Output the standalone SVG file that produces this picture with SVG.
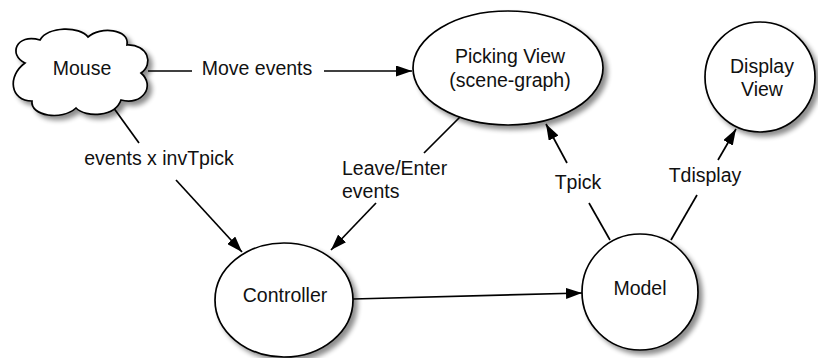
<svg xmlns="http://www.w3.org/2000/svg" width="818" height="358" viewBox="0 0 818 358">
  <defs>
    <filter id="shadow" x="-20%" y="-20%" width="150%" height="150%">
      <feGaussianBlur in="SourceAlpha" stdDeviation="2.5"/>
      <feOffset dx="4" dy="4" result="b"/>
      <feComponentTransfer><feFuncA type="linear" slope="0.45"/></feComponentTransfer>
      <feMerge><feMergeNode/><feMergeNode in="SourceGraphic"/></feMerge>
    </filter>
    <marker id="arrow" viewBox="0 0 16 11" refX="16" refY="5.5" markerWidth="16" markerHeight="11" markerUnits="userSpaceOnUse" orient="auto">
      <path d="M0,0 L16,5.5 L0,11 Z" fill="#000"/>
    </marker>
  </defs>
  <style>
    .shape { fill: #fff; stroke: #000; stroke-width: 1.7; filter: url(#shadow); }
    .edge { fill: none; stroke: #000; stroke-width: 1.7; }
    text { font-family: "Liberation Sans", Arial, sans-serif; font-size: 19.5px; fill: #111; text-anchor: middle; }
    .lbl { text-anchor: start; }
  </style>
  <rect width="818" height="358" fill="#fff"/>

  <g id="connectors">
    <!-- Mouse -> Picking View -->
    <line class="edge" x1="148" y1="71" x2="192" y2="71"/>
    <line class="edge" x1="324" y1="71" x2="412" y2="71" marker-end="url(#arrow)"/>
    <text x="257" y="75">Move events</text>
    <!-- Mouse -> Controller -->
    <line class="edge" x1="113" y1="107" x2="139" y2="143"/>
    <line class="edge" x1="176" y1="180" x2="242" y2="252" marker-end="url(#arrow)"/>
    <text x="159" y="165">events x invTpick</text>
    <!-- Picking View -> Controller -->
    <line class="edge" x1="460" y1="117" x2="424" y2="153"/>
    <line class="edge" x1="376" y1="203" x2="331" y2="250" marker-end="url(#arrow)"/>
    <text class="lbl" x="342" y="175">Leave/Enter</text>
    <text class="lbl" x="342" y="198">events</text>
    <!-- Controller -> Model -->
    <line class="edge" x1="353" y1="299" x2="582" y2="293" marker-end="url(#arrow)"/>
    <!-- Model -> Picking View -->
    <line class="edge" x1="610" y1="240" x2="589" y2="203"/>
    <line class="edge" x1="567" y1="163" x2="546" y2="124" marker-end="url(#arrow)"/>
    <text x="578" y="189">Tpick</text>
    <!-- Model -> Display View -->
    <line class="edge" x1="671" y1="240" x2="697" y2="195"/>
    <line class="edge" x1="718" y1="160" x2="736" y2="129" marker-end="url(#arrow)"/>
    <text x="705" y="182">Tdisplay</text>
  </g>

  <g id="mouse">
    <path class="shape" d="M25,63 C8,55 16,33 40,40 C48,26 80,26 88,37 C100,26 130,29 127,45 C148,44 154,64 141,73 C156,86 142,106 121,100 C115,117 86,118 76,108 C62,121 30,116 32,101 C10,101 7,76 25,63 Z"/>
    <text x="82" y="75">Mouse</text>
  </g>

  <g id="picking-view">
    <ellipse class="shape" cx="508" cy="68" rx="95" ry="57"/>
    <text x="510" y="63">Picking View</text>
    <text x="510" y="87">(scene-graph)</text>
  </g>

  <g id="display-view">
    <circle class="shape" cx="760" cy="77" r="55"/>
    <text x="762" y="73">Display</text>
    <text x="762" y="96">View</text>
  </g>

  <g id="controller">
    <ellipse class="shape" cx="284" cy="300" rx="69" ry="57"/>
    <text x="285" y="302">Controller</text>
  </g>

  <g id="model">
    <circle class="shape" cx="640" cy="292" r="58"/>
    <text x="640" y="295">Model</text>
  </g>
</svg>
